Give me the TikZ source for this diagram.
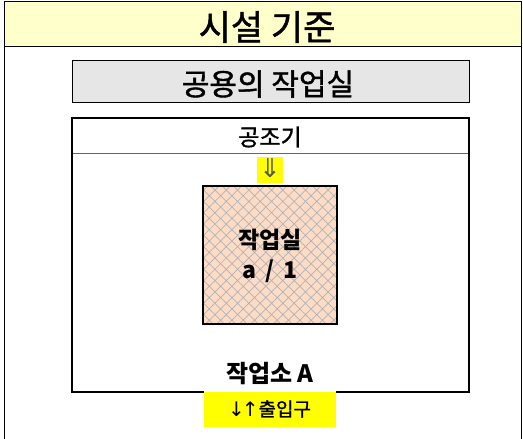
\documentclass[tikz,border=0pt]{standalone}
\usepackage{fontspec}
\setmainfont{Noto Sans CJK KR}
\newfontfamily\medfont[FakeBold=1.3]{Noto Sans CJK KR}
\newfontfamily\arrowfont{DejaVu Sans}
\usetikzlibrary{patterns.meta}
\definecolor{titlebg}{HTML}{FFFFCC}
\definecolor{graybg}{HTML}{E6E6E6}
\definecolor{peach}{HTML}{FCDCC6}
\definecolor{hlyellow}{HTML}{FFFF00}
\begin{document}
\begin{tikzpicture}[x=1pt,y=-1pt,
  lbl/.style={inner sep=0pt, anchor=center, text=black}]
\useasboundingbox (0,0) rectangle (523,439);
% outer frame
\fill[white] (0,0) rectangle (523,439);
\fill[titlebg] (4,1) rectangle (521,46);
\draw[line width=1pt] (4,439) -- (4,1) -- (521,1) -- (521,439);
\draw[line width=1pt] (4,46) -- (521,46);
\node[lbl, font=\medfont\fontsize{35}{37}\selectfont] (title) at (267,27) {시설 기준};
% gray header
\node[draw=black, line width=1pt, fill=graybg, minimum width=397pt, minimum height=42pt, inner sep=0pt] (hdr) at (270.5,81.5) {};
\node[lbl, font=\medfont\fontsize{30}{32}\selectfont] (hdrtxt) at (268,84) {공용의 작업실};
% big room box
\coordinate (gapL) at (204,392);
\coordinate (gapR) at (336,392);
\draw[line width=2.5pt, line join=miter] (gapL) -- (72,392) -- (72,118) -- (469,118) -- (469,392) -- (gapR);
\draw[line width=0.6pt, black!60] (73,153) -- (468,153);
\node[lbl, font=\medfont\fontsize{23}{25}\selectfont] (ahu) at (270,137) {공조기};
% arrow box
\node[fill=hlyellow, minimum width=26pt, minimum height=26pt, inner sep=0pt] (arr) at (270,170) {};
\node[lbl, font=\arrowfont\fontsize{26}{26}\selectfont, text=black!65] (arrtxt) at (270,168) {⇓};
% work room
\fill[peach] (203,186) rectangle (337,324);
\fill[pattern={Hatch[angle=45,distance=8pt,line width=0.7pt]}, pattern color=black!30] (203,186) rectangle (337,324);
\node[draw=black, line width=2pt, minimum width=134pt, minimum height=138pt, inner sep=0pt] (room) at (270,255) {};
\node[lbl, font=\fontsize{23}{30}\selectfont\bfseries, align=center] (roomtxt) at (270,256) {작업실\\a \,/\, 1};
% label
\node[lbl, font=\fontsize{24}{26}\selectfont\bfseries] (wsA) at (270,374) {작업소 A};
% entrance
\node[fill=hlyellow, minimum width=132pt, minimum height=35pt, inner sep=0pt, anchor=north] (ent) at (270,392) {};
\node[lbl, font=\medfont\fontsize{19}{20}\selectfont] (enttxt) at (270,409)
  {{\arrowfont\fontsize{20}{20}\selectfont\kern-1pt↓\kern-3pt↑}출입구};
\end{tikzpicture}
\end{document}
